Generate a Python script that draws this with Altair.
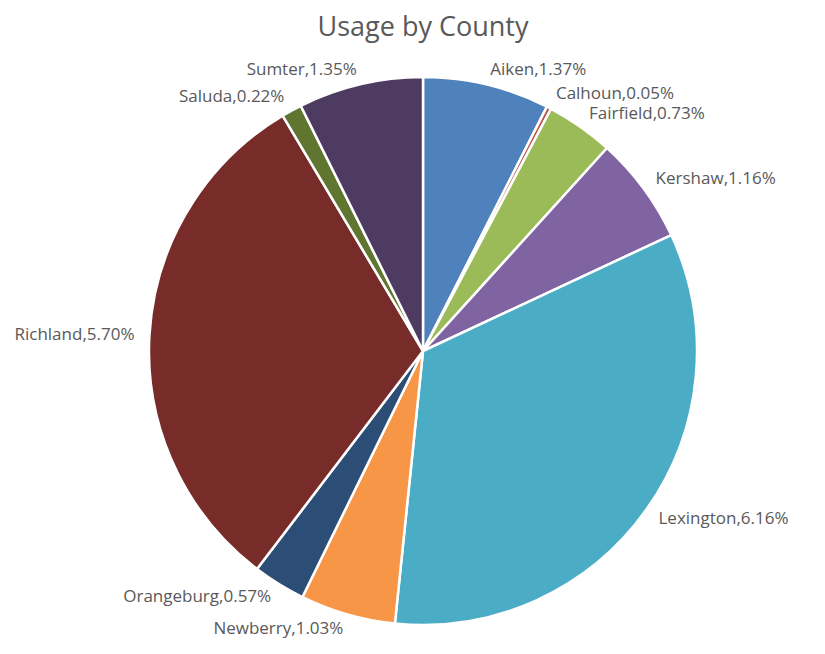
import altair as alt
import pandas as pd

counties = ["Aiken", "Calhoun", "Fairfield", "Kershaw", "Lexington",
            "Newberry", "Orangeburg", "Richland", "Saluda", "Sumter"]
usage = [1.37, 0.05, 0.73, 1.16, 6.16, 1.03, 0.57, 5.70, 0.22, 1.35]
colors = ["#4F81BD", "#C0504D", "#9BBB59", "#8064A2", "#4BACC6",
          "#F79646", "#2C4D75", "#772C2A", "#5F7530", "#4D3B62"]

total = sum(usage)
df = pd.DataFrame({
    "county": counties,
    "usage": usage,
    "order": list(range(len(counties))),
    "label": [f"{c},{v:.2f}%" for c, v in zip(counties, usage)],
})

theta_scale = alt.Scale(domain=[0, total])
color_scale = alt.Scale(domain=counties, range=colors)

base = alt.Chart(df)

pie = base.mark_arc(radius=274, stroke="white", strokeWidth=2.5).encode(
    theta=alt.Theta("usage:Q", stack=True, scale=theta_scale),
    color=alt.Color("county:N", scale=color_scale, legend=None),
    order=alt.Order("order:Q"),
)

lab = base.transform_window(
    cum="sum(usage)", sort=[alt.SortField("order")]
).transform_calculate(mid="datum.cum - datum.usage / 2")

text_common = dict(radius=289, fontSize=17, font="Open Sans", color="#595959",
                   baseline="middle")

right_labels = lab.transform_filter(f"datum.mid < {total / 2}").mark_text(
    align="left", **text_common
).encode(theta=alt.Theta("mid:Q", scale=theta_scale), text="label:N")

left_labels = lab.transform_filter(f"datum.mid >= {total / 2}").mark_text(
    align="right", **text_common
).encode(theta=alt.Theta("mid:Q", scale=theta_scale), text="label:N")

chart = alt.layer(pie, right_labels, left_labels).properties(
    width=780,
    height=586,
    padding={"left": 25, "top": 50, "right": 0, "bottom": 0},
    autosize=alt.AutoSizeParams(type="none"),
    title=alt.TitleParams("Usage by County", fontSize=27, font="Open Sans",
                          fontWeight="normal", color="#595959", offset=16,
                          anchor="middle"),
).configure_view(stroke=None)

chart.save("out.html", embed_options={"renderer": "svg", "actions": False})
